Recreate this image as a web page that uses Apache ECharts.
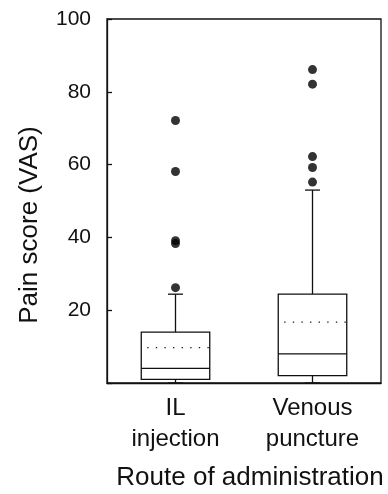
<!DOCTYPE html>
<html>
<head>
<meta charset="utf-8">
<script src="https://cdn.jsdelivr.net/npm/echarts@6/dist/echarts.min.js"></script>
<style>
html,body{margin:0;padding:0;background:#fff;}
#c{width:388px;height:494px;}
</style>
</head>
<body>
<div id="c"></div>
<script>
const categories = ['IL\ninjection', 'Venous\npuncture'];
const whiskerLow = [0, 0];
const q1 = [1, 2];
const median = [4, 8];
const q3 = [14, 24.4];
const whiskerHigh = [24.4, 53];
const mean = [9.7, 16.7];
const outliersIL = [26.2, 38.3, 39.1, 58.1, 72.1];
const outliersVenous = [55.2, 59.2, 62.2, 82.1, 86.1];
const yTicks = [0, 20, 40, 60, 80, 100];

const boxData = categories.map((c, i) => [i, whiskerLow[i], q1[i], median[i], q3[i], whiskerHigh[i], mean[i]]);
const outlierData = outliersIL.map(v => [0, v]).concat(outliersVenous.map(v => [1, v]));

const ink = '#111';
const font = 'Liberation Sans, Arial, sans-serif';

function renderBox(params, api) {
  const x = api.value(0);
  const pMin = api.coord([x, api.value(1)]);
  const pQ1 = api.coord([x, api.value(2)]);
  const pMed = api.coord([x, api.value(3)]);
  const pQ3 = api.coord([x, api.value(4)]);
  const pMax = api.coord([x, api.value(5)]);
  const pMean = api.coord([x, api.value(6)]);
  const band = api.size([1, 0])[0];
  const bw = band * 0.5;
  const cw = band * 0.11;
  const cx = pMed[0];
  const lineStyle = {stroke: ink, lineWidth: 1.3, fill: null};
  return {
    type: 'group',
    children: [
      {type: 'line', shape: {x1: cx, y1: pQ3[1], x2: cx, y2: pMax[1]}, style: lineStyle},
      {type: 'line', shape: {x1: cx - cw / 2, y1: pMax[1], x2: cx + cw / 2, y2: pMax[1]}, style: lineStyle},
      {type: 'line', shape: {x1: cx, y1: pQ1[1], x2: cx, y2: pMin[1]}, style: lineStyle},
      {type: 'line', shape: {x1: cx - cw / 2, y1: pMin[1], x2: cx + cw / 2, y2: pMin[1]}, style: lineStyle},
      {type: 'rect', shape: {x: cx - bw / 2, y: pQ3[1], width: bw, height: pQ1[1] - pQ3[1]}, style: {stroke: ink, lineWidth: 1.3, fill: '#fff'}},
      {type: 'line', shape: {x1: cx - bw / 2, y1: pMed[1], x2: cx + bw / 2, y2: pMed[1]}, style: lineStyle},
      {type: 'line', shape: {x1: cx - bw / 2 + 6, y1: pMean[1], x2: cx + bw / 2, y2: pMean[1]}, style: {stroke: ink, lineWidth: 1.3, lineDash: [1.3, 7.3], fill: null}}
    ]
  };
}

const chart = echarts.init(document.getElementById('c'), null, {renderer: 'canvas'});
chart.setOption({
  animation: false,
  backgroundColor: '#fff',
  grid: {left: 107, right: 7, top: 19, bottom: 111, outerBoundsMode: 'none', containLabel: false, show: true, borderColor: ink, borderWidth: 1.3, backgroundColor: 'transparent'},
  xAxis: {
    type: 'category',
    data: categories,
    boundaryGap: true,
    name: 'Route of administration',
    nameLocation: 'middle',
    nameGap: 82,
    nameTextStyle: {fontFamily: font, fontSize: 26, color: ink, padding: [0, 0, 0, 12]},
    axisLine: {show: true, lineStyle: {color: ink, width: 1.3}},
    axisTick: {show: false},
    axisLabel: {fontFamily: font, fontSize: 24, color: ink, lineHeight: 31, margin: 10, interval: 0},
    splitLine: {show: false}
  },
  yAxis: {
    type: 'value',
    min: yTicks[0],
    max: yTicks[yTicks.length - 1],
    interval: 20,
    name: 'Pain score (VAS)',
    nameLocation: 'middle',
    nameGap: 64,
    nameRotate: 90,
    nameTextStyle: {fontFamily: font, fontSize: 26, color: ink, padding: [0, 48, 0, 0]},
    axisLine: {show: true, lineStyle: {color: ink, width: 1.3}},
    axisTick: {show: true, inside: true, length: 5, lineStyle: {color: ink, width: 1.3}},
    axisLabel: {fontFamily: font, fontSize: 21, color: ink, margin: 16, formatter: v => (v === 0 ? '' : String(v))},
    splitLine: {show: false}
  },
  series: [
    {
      type: 'custom',
      renderItem: renderBox,
      data: boxData,
      encode: {x: 0, y: [1, 2, 3, 4, 5, 6]},
      z: 2
    },
    {
      type: 'scatter',
      data: outlierData,
      symbol: 'circle',
      symbolSize: 9,
      itemStyle: {color: '#000'},
      z: 3
    }
  ]
});
</script>
</body>
</html>
